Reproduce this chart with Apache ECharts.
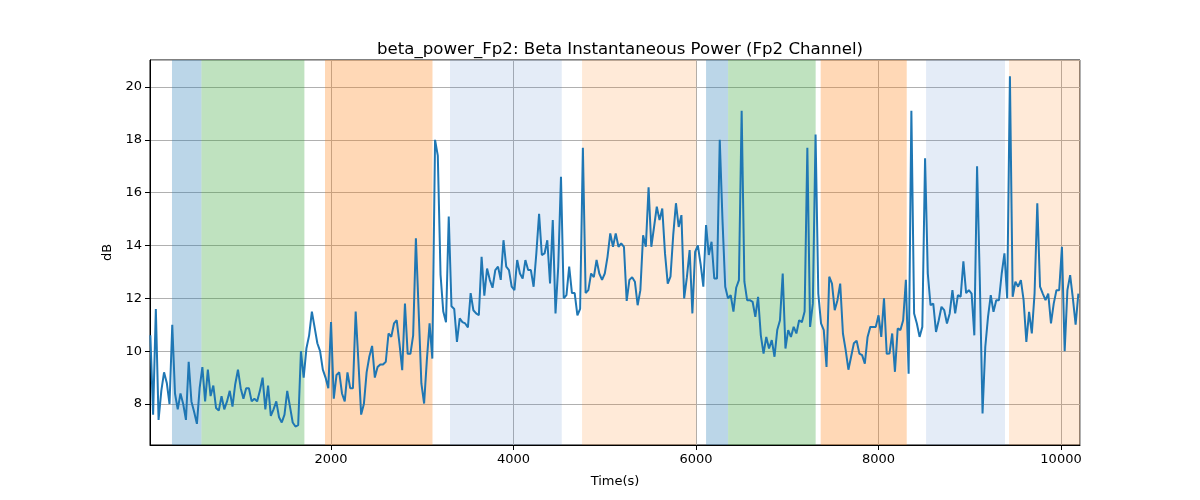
<!DOCTYPE html>
<html>
<head>
<meta charset="utf-8">
<script src="https://cdn.jsdelivr.net/npm/echarts@6/dist/echarts.min.js"></script>
<style>
  html, body { margin: 0; padding: 0; background: #fff; }
  #main { width: 1200px; height: 500px; }
</style>
</head>
<body>
<div id="main"></div>
<script>
// samples every 30 s, starting at t = 20 s
var startTime = 20;
var stepTime = 30;
var power = [
  10.6, 7.6, 11.6, 7.4, 8.5, 9.2, 8.8, 8.0, 11.0, 8.4,
  7.8, 8.4, 8.0, 7.4, 9.6, 8.1, 7.7, 7.25, 8.6, 9.4,
  8.1, 9.3, 8.3, 8.7, 7.85, 7.75, 8.3, 7.8, 8.1, 8.5,
  7.9, 8.75, 9.3, 8.6, 8.2, 8.6, 8.6, 8.1, 8.2, 8.1,
  8.5, 9.0, 7.8, 8.7,
  7.55, 7.8, 8.1, 7.5, 7.3, 7.6, 8.5, 7.9, 7.3, 7.15,
  7.2, 10.0, 9.0, 10.1, 10.6, 11.5, 10.9, 10.3, 10.0, 9.3,
  9.0, 8.6, 11.1, 8.2, 9.1, 9.2, 8.4, 8.1, 9.2, 8.6,
  8.6, 11.5, 9.6, 7.6, 8.0, 9.2, 9.8, 10.2, 9.0, 9.4,
  9.5, 9.5, 9.6,
  10.67, 10.54, 11.05, 11.17, 10.29, 9.28, 11.8, 9.9, 9.9, 10.6,
  14.27, 11.55, 8.78, 8.02, 9.66, 11.05, 9.72, 18.0, 17.4, 12.9,
  11.5, 11.1, 15.1, 11.7, 11.6, 10.35, 11.24, 11.1, 11.05, 10.9,
  12.2, 11.55, 11.43, 11.36, 13.57, 12.1, 13.13, 12.7, 12.4, 13.07,
  13.2, 12.7, 14.2,
  13.2, 13.07, 12.44, 12.31, 13.45, 12.94, 12.75, 13.45, 13.07, 13.07,
  12.44, 13.7, 15.2, 13.64, 13.7, 14.2, 12.56, 14.96, 11.43, 13.2,
  16.6, 12.0, 12.12, 13.2, 12.2, 12.2, 11.36, 11.6, 17.7, 12.2,
  12.31, 12.94, 12.8, 13.45, 12.94, 12.7, 12.94, 13.57, 14.46, 13.95,
  14.46, 13.95,
  14.08, 13.95, 11.9, 12.7, 12.8, 12.63, 11.74, 12.31, 14.39, 13.95,
  16.2, 13.95, 14.7, 15.47, 14.96, 15.4, 13.7, 12.56, 12.82, 14.39,
  15.6, 14.7, 15.15, 12.0, 12.8, 13.83, 11.43, 13.76, 14.0, 13.3,
  12.44, 14.77, 13.64, 14.14, 12.75, 12.75, 18.0, 14.96, 12.44, 12.0,
  12.12, 11.5, 12.4,
  12.69, 19.1, 12.63, 11.93, 11.93, 11.87, 11.3, 12.06, 10.6, 9.91,
  10.54, 10.1, 10.42, 9.79, 10.8, 11.17, 12.94, 10.1, 10.8, 10.54,
  10.92, 10.67, 11.17, 11.1, 11.5, 17.7, 10.92, 11.8, 18.2, 12.18,
  11.05, 10.8, 9.4, 12.82, 12.56, 11.55, 11.93, 12.56, 10.67, 10.04,
  9.3, 9.8, 10.3,
  10.4, 9.91, 9.85, 9.53, 10.54, 10.92, 10.92, 10.92, 11.36, 10.54,
  12.0, 9.9, 9.91, 10.67, 9.22, 10.86, 10.8, 11.17, 12.7, 9.15,
  19.1, 11.43, 11.05, 10.54, 10.92, 17.3, 12.94, 11.74, 11.8, 10.73,
  11.17, 11.68, 11.55, 11.05, 11.43, 12.31, 11.43, 12.12, 12.06, 13.4,
  12.2, 12.31, 12.18,
  10.6, 17.0, 12.69, 7.64, 10.16, 11.3, 12.12, 11.49, 11.93, 11.93,
  12.94, 13.7, 12.0, 20.4, 12.06, 12.63, 12.44, 12.69, 11.93, 10.35,
  11.49, 10.67, 12.18, 15.6, 12.44, 12.18, 11.93, 12.18, 11.05, 11.8,
  12.31, 12.31, 13.95, 10.0, 12.31, 12.88, 12.0, 11.0, 12.18
];

// shaded stage spans (seconds)
var spanStart = [257, 580, 1934, 3304, 4751, 6110, 6351, 7366, 8521, 9430];
var spanEnd   = [580, 1708, 3112, 4528, 6003, 6351, 7311, 8309, 9386, 10208];
var spanColor = [
  'rgba(31,119,180,0.3)', 'rgba(44,160,44,0.3)', 'rgba(255,127,14,0.3)',
  'rgba(75,128,202,0.15)', 'rgba(255,127,14,0.16)',
  'rgba(31,119,180,0.3)', 'rgba(44,160,44,0.3)', 'rgba(255,127,14,0.3)',
  'rgba(75,128,202,0.15)', 'rgba(255,127,14,0.16)'
];

var xMin = 16, xMax = 10208;
var yMin = 6.45, yMax = 21.02;

var lineData = power.map(function (v, i) { return [startTime + i * stepTime, v]; });
var areas = spanStart.map(function (s, i) {
  return [{ xAxis: s, itemStyle: { color: spanColor[i] } }, { xAxis: spanEnd[i] }];
});

var font = 'DejaVu Sans';
var myChart = echarts.init(document.getElementById('main'));

var option = {
    animation: false,
    title: {
        text: 'beta_power_Fp2: Beta Instantaneous Power (Fp2 Channel)',
        left: 615,
        textAlign: 'center',
        top: 36,
        textStyle: { fontFamily: font, fontSize: 16.6, fontWeight: 'normal', color: '#000' }
    },
    grid: {
        left: 150, right: 120, top: 60, bottom: 55,
        show: true, borderColor: '#000', borderWidth: 1
    },
    xAxis: {
        type: 'value',
        min: xMin, max: xMax,
        splitNumber: 5,
        name: 'Time(s)',
        nameLocation: 'middle',
        nameGap: 30,
        nameTextStyle: { fontFamily: font, fontSize: 13, color: '#000' },
        axisLine: { lineStyle: { color: '#000' } },
        axisTick: { length: 5, lineStyle: { color: '#000' } },
        axisLabel: { fontFamily: font, fontSize: 13, color: '#000', margin: 8,
                     showMinLabel: false, showMaxLabel: false,
                     formatter: function (v) { return String(v); } },
        splitLine: { show: true, lineStyle: { color: '#b0b0b0', width: 1 } }
    },
    yAxis: {
        type: 'value',
        min: yMin, max: yMax,
        splitNumber: 7,
        name: 'dB',
        nameLocation: 'middle',
        nameGap: 31,
        nameTextStyle: { fontFamily: font, fontSize: 13, color: '#000' },
        axisLine: { show: true, lineStyle: { color: '#000' } },
        axisTick: { show: true, length: 5, lineStyle: { color: '#000' } },
        axisLabel: { fontFamily: font, fontSize: 13, color: '#000', margin: 8,
                     showMinLabel: false, showMaxLabel: false },
        splitLine: { show: true, lineStyle: { color: '#b0b0b0', width: 1 } }
    },
    series: [{
        type: 'line',
        data: [],
        silent: true,
        markArea: { silent: true, data: areas }
    }, {
        name: 'beta power',
        type: 'line',
        data: lineData,
        showSymbol: false,
        lineStyle: { color: '#1f77b4', width: 2 },
        z: 5
    }]
};

myChart.setOption(option);
</script>
</body>
</html>
